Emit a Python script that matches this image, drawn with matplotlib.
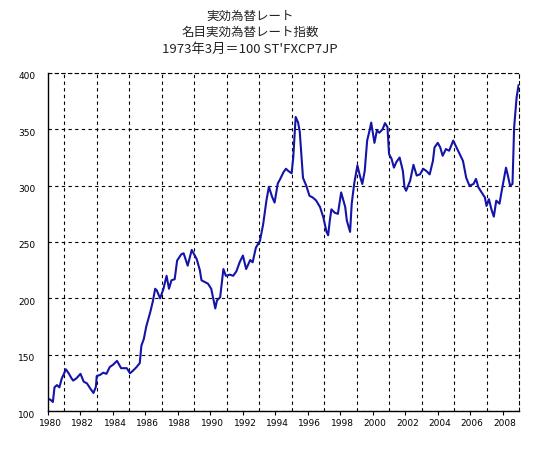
import matplotlib
matplotlib.use("Agg")
import matplotlib.pyplot as plt
import matplotlib.transforms as mtransforms

# ---- data ----
years = [
    1980.00, 1980.15, 1980.30, 1980.40, 1980.55, 1980.70, 1980.85, 1980.95,
    1981.10, 1981.25, 1981.45, 1981.55, 1981.75, 1982.00, 1982.20, 1982.40,
    1982.60, 1982.80, 1982.95, 1983.00, 1983.20, 1983.40, 1983.60, 1983.80,
    1984.00, 1984.25, 1984.50, 1984.85, 1985.05, 1985.25, 1985.45, 1985.65,
    1985.75, 1985.90, 1986.05, 1986.30, 1986.45, 1986.60, 1986.70, 1986.90,
    1987.10, 1987.30, 1987.45, 1987.60, 1987.80, 1987.95, 1988.20, 1988.35,
    1988.60, 1988.85, 1989.15, 1989.35, 1989.45, 1989.65, 1989.85, 1990.05,
    1990.30, 1990.40, 1990.60, 1990.80, 1990.95, 1991.20, 1991.40, 1991.60,
    1991.80, 1992.00, 1992.20, 1992.45, 1992.60, 1992.80, 1993.05, 1993.25,
    1993.45, 1993.60, 1993.80, 1993.95, 1994.15, 1994.30, 1994.50, 1994.65,
    1994.80, 1995.00, 1995.10, 1995.25, 1995.40, 1995.50, 1995.60, 1995.70,
    1995.90, 1996.10, 1996.30, 1996.50, 1996.75, 1996.95, 1997.15, 1997.25,
    1997.35, 1997.45, 1997.65, 1997.85, 1998.05, 1998.30, 1998.40, 1998.60,
    1998.70, 1998.85, 1999.05, 1999.20, 1999.35, 1999.50, 1999.65, 1999.80,
    1999.90, 2000.10, 2000.25, 2000.40, 2000.60, 2000.75, 2000.90, 2001.00,
    2001.15, 2001.30, 2001.45, 2001.65, 2001.85, 2001.95, 2002.05, 2002.30,
    2002.50, 2002.70, 2002.90, 2003.10, 2003.30, 2003.50, 2003.70, 2003.80,
    2004.00, 2004.15, 2004.30, 2004.50, 2004.70, 2004.95, 2005.15, 2005.35,
    2005.55, 2005.75, 2005.95, 2006.20, 2006.35, 2006.50, 2006.70, 2006.90,
    2007.00, 2007.15, 2007.30, 2007.45, 2007.60, 2007.80, 2007.90, 2008.05,
    2008.20, 2008.30, 2008.45, 2008.60, 2008.70, 2008.85, 2008.97,
]
index_values = [
    111, 110, 108, 121, 123, 121, 129, 132,
    137, 134, 129, 127, 129, 133, 126, 124.5,
    120, 116, 121.5, 131, 132, 134, 133, 139,
    141, 144.5, 138, 138, 133.5, 136, 139, 142.5,
    158, 164, 175, 188, 197, 208.5, 207, 200,
    208, 220, 208.5, 216, 217, 233.5, 239, 240,
    229, 243, 235, 225, 216, 214.5, 213, 208.5,
    191, 198, 201, 226, 220, 221, 220, 224,
    232, 238, 226, 234, 232, 245, 251, 266,
    287, 299, 290, 285, 302, 306, 312, 315,
    313, 311, 325, 361, 356, 348, 328, 307,
    300, 291, 289.5, 287, 281, 272, 259, 256,
    269, 279, 276, 275, 294, 281, 269, 259,
    284, 301.5, 318, 309, 301.5, 313, 340, 349,
    356, 338, 349, 347, 350, 355.5, 352, 328,
    324, 316, 321, 325, 313, 298.5, 295.5, 304.5,
    318.5, 309, 310, 315, 313, 310, 322, 334,
    338, 334, 326.5, 332.5, 331, 340, 334, 328,
    322, 307, 300, 301.5, 306, 298.5, 294, 289.5,
    282, 288, 279, 272.5, 286.7, 284, 292.6, 304.4,
    316, 310, 300, 301.5, 351.6, 378, 389,
]
x_tick_years = [1980, 1982, 1984, 1986, 1988, 1990, 1992, 1994,
                1996, 1998, 2000, 2002, 2004, 2006, 2008]
x_grid_years = [1981, 1983, 1985, 1987, 1989, 1991, 1993, 1995,
                1997, 1999, 2001, 2003, 2005, 2007]
y_ticks = [100, 150, 200, 250, 300, 350, 400]
title_lines = ["実効為替レート", "名目実効為替レート指数", "1973年3月＝100 ST'FXCP7JP"]

# ---- figure ----
W, H = 549, 457
fig = plt.figure(figsize=(W / 100, H / 100), dpi=100)
ax = fig.add_axes([48 / W, 1 - 411 / H, (519 - 48) / W, (411 - 73) / H])

ax.plot(years, index_values, color="#1414a8", linewidth=1.5, solid_joinstyle="round")

ax.set_xlim(1980, 2009)
ax.set_ylim(100, 400)

dash = (0, (3, 3))
ax.set_xticks(x_tick_years)
ax.set_xticklabels([str(y) for y in x_tick_years])
ax.set_xticks(x_grid_years, minor=True)
ax.set_yticks(y_ticks)
ax.set_yticklabels([str(v) for v in y_ticks])

ax.xaxis.grid(True, which="minor", color="black", linestyle=dash, linewidth=0.8)
ax.yaxis.grid(True, which="major", color="black", linestyle=dash, linewidth=0.8)
ax.xaxis.grid(False, which="major")

ax.tick_params(axis="x", which="major", direction="out", length=3, width=0.8,
               labelsize=6.5, pad=3, colors="black")
ax.tick_params(axis="x", which="minor", length=0)
ax.tick_params(axis="y", which="major", length=0, labelsize=6.5, pad=9)

for lab in ax.get_yticklabels():
    lab.set_transform(lab.get_transform() +
                      mtransforms.ScaledTranslation(0, -3 / 100, fig.dpi_scale_trans))
for lab in ax.get_xticklabels():
    lab.set_transform(lab.get_transform() +
                      mtransforms.ScaledTranslation(2 / 100, 0, fig.dpi_scale_trans))

for side in ("left", "bottom"):
    ax.spines[side].set_color("black")
    ax.spines[side].set_linewidth(1.0)
for side in ("top", "right"):
    ax.spines[side].set_color("black")
    ax.spines[side].set_linewidth(0.8)
    ax.spines[side].set_linestyle(dash)

cjk = ["Noto Sans CJK JP", "DejaVu Sans"]
for i, t in enumerate(title_lines):
    fig.text(250 / W, 1 - (16 + 16.5 * i) / H, t, ha="center", va="center",
             fontsize=9.5 if i == 2 else 9, family=cjk, color="#222222")

fig.savefig("out.png", dpi=100)
